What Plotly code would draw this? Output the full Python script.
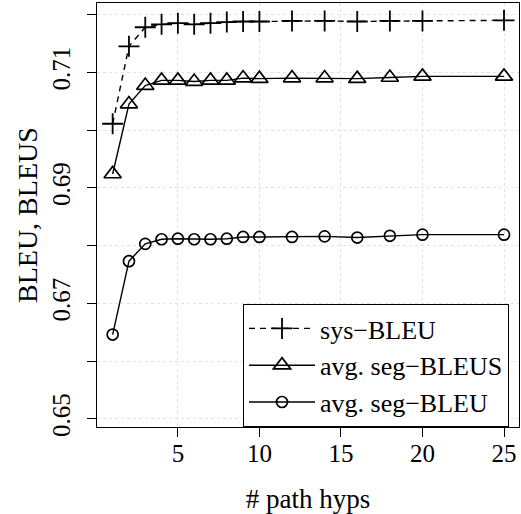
import plotly.graph_objects as go

hyps = [1, 2, 3, 4, 5, 6, 7, 8, 9, 10, 12, 14, 16, 18, 20, 25]
sys_bleu = [0.7011, 0.7145, 0.7178, 0.7183, 0.7185, 0.7183, 0.7185, 0.7187,
            0.7188, 0.7188, 0.7189, 0.7189, 0.7188, 0.7189, 0.7189, 0.7190]
avg_seg_bleus = [0.6924, 0.7045, 0.7077, 0.7086, 0.7086, 0.7084, 0.7086, 0.7086,
                 0.7090, 0.7089, 0.7090, 0.7090, 0.7089, 0.7091, 0.7093, 0.7093]
avg_seg_bleu = [0.6646, 0.6773, 0.6803, 0.6811, 0.6812, 0.6811, 0.6811, 0.6812,
                0.6815, 0.6815, 0.6815, 0.6816, 0.6814, 0.6817, 0.6819, 0.6819]

y_tickvals = [0.65, 0.66, 0.67, 0.68, 0.69, 0.70, 0.71, 0.72]
y_ticktext = ["0.65", "", "0.67", "", "0.69", "", "0.71", ""]
x_tickvals = [5, 10, 15, 20, 25]

FONT = "Liberation Serif"
FS_TICK = 25
FS_TITLE = 27
FS_LEG = 26

fig = go.Figure()
fig.add_trace(go.Scatter(
    x=hyps, y=sys_bleu, name="sys\u2212BLEU", mode="lines+markers",
    line=dict(color="black", width=1.4, dash="6px,5px"),
    marker=dict(symbol="cross-thin-open", size=15, color="black",
                line=dict(color="black", width=1.8))))
fig.add_trace(go.Scatter(
    x=hyps, y=avg_seg_bleus, name="avg. seg\u2212BLEUS", mode="lines+markers",
    line=dict(color="black", width=1.4),
    marker=dict(symbol="triangle-up-open", size=15, color="black",
                line=dict(color="black", width=1.7))))
fig.add_trace(go.Scatter(
    x=hyps, y=avg_seg_bleu, name="avg. seg\u2212BLEU", mode="lines+markers",
    line=dict(color="black", width=1.4),
    marker=dict(symbol="circle-open", size=11, color="black",
                line=dict(color="black", width=1.7))))

axis_common = dict(
    showline=True, linecolor="black", linewidth=1, mirror=True,
    ticks="outside", ticklen=9, tickwidth=1, tickcolor="black",
    showgrid=True, gridcolor="#e2e2e2", griddash="dot", gridwidth=1,
    zeroline=False, automargin=False,
    tickfont=dict(family=FONT, size=FS_TICK, color="black"),
)

fig.update_xaxes(range=[0.04, 25.92], tickvals=x_tickvals, ticklabelstandoff=-5,
                 title=dict(text="# path hyps", font=dict(family=FONT, size=FS_TITLE, color="black"),
                            standoff=24),
                 **axis_common)
fig.update_yaxes(range=[0.6486, 0.7220], tickvals=y_tickvals, ticktext=y_ticktext,
                 tickangle=-90, ticklabelstandoff=7,
                 **axis_common)

fig.add_annotation(text="BLEU, BLEUS", xref="paper", yref="paper",
                   x=0, y=0.5, xanchor="center", yanchor="middle",
                   xshift=-70, textangle=-90, showarrow=False,
                   font=dict(family=FONT, size=28, color="black"))

fig.update_layout(
    width=521, height=514,
    margin=dict(l=97, r=2, t=3, b=87),
    paper_bgcolor="white", plot_bgcolor="white",
    font=dict(family=FONT, size=FS_LEG, color="black"),
    showlegend=True,
    legend=dict(x=0.346, y=0, xanchor="left", yanchor="bottom",
                bgcolor="white", bordercolor="black", borderwidth=1,
                font=dict(family=FONT, size=FS_LEG, color="black"),
                itemwidth=66, tracegroupgap=0),
)

fig.write_html("out.html", config={"displayModeBar": False},
               post_script="document.body.style.margin='0';")
